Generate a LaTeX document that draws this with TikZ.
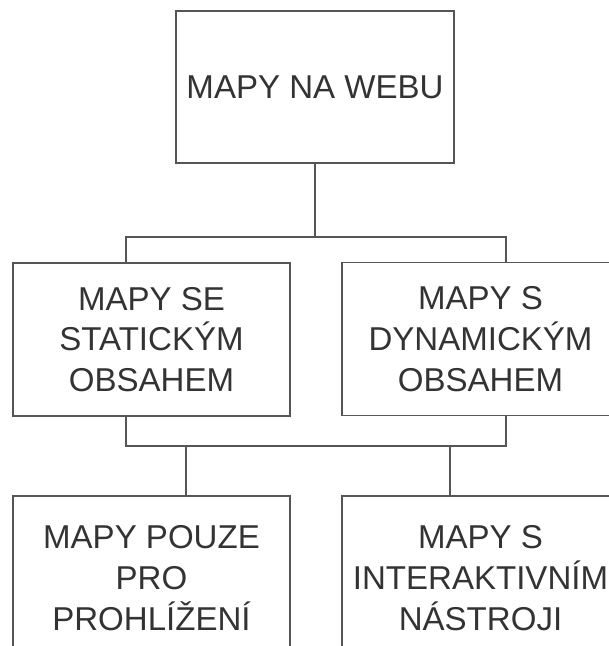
\documentclass[tikz,border=0pt]{standalone}
\usepackage{fontspec}
\setmainfont{Liberation Sans}
\definecolor{inkgray}{HTML}{333333}
\definecolor{linegray}{HTML}{555555}
\tikzset{
    mapbox/.style={draw=linegray, line width=1pt, text=inkgray, align=center,
        minimum width=6.925cm, minimum height=3.825cm, inner sep=0pt},
    link/.style={draw=linegray, line width=1pt}
}
\begin{document}
\begin{tikzpicture}[x=0.025cm, y=-0.025cm, font=\fontsize{23.5}{29}\selectfont]
        \useasboundingbox (0,0) rectangle (609,646);
        % boxes
        \node[mapbox, minimum width=6.95cm, minimum height=3.8cm] (web) at (315,87) {MAPY NA WEBU};
        \node[mapbox] (stat) at (151.5,339.5) {MAPY SE\\STATICKÝM\\OBSAHEM};
        \node[mapbox] (dyn) at (480.5,339) {MAPY S\\DYNAMICKÝM\\OBSAHEM};
        \node[mapbox, minimum height=4.1cm] (pouze) at (151.5,578) {MAPY POUZE\\PRO\\PROHLÍŽENÍ};
        \node[mapbox, minimum height=4.1cm] (nastroj) at (480.5,578) {MAPY S\\INTERAKTIVNÍM\\NÁSTROJI};
        % junctions
        \coordinate (top) at (315,237);
        \coordinate (jl) at (126,237);
        \coordinate (jr) at (506,237);
        \coordinate (kl) at (126,446);
        \coordinate (kr) at (506,446);
        \coordinate (ml) at (186,446);
        \coordinate (mr) at (450,446);
        % connectors
        \draw[link] (web.south) -- (top);
        \draw[link] (jl |- stat.north) -- (jl) -- (jr) -- (jr |- dyn.north);
        \draw[link] (kl |- stat.south) -- (kl) -- (kr) -- (kr |- dyn.south);
        \foreach \j/\n in {ml/pouze, mr/nastroj}
            \draw[link] (\j) -- (\j |- \n.north);
    \end{tikzpicture}
\end{document}
